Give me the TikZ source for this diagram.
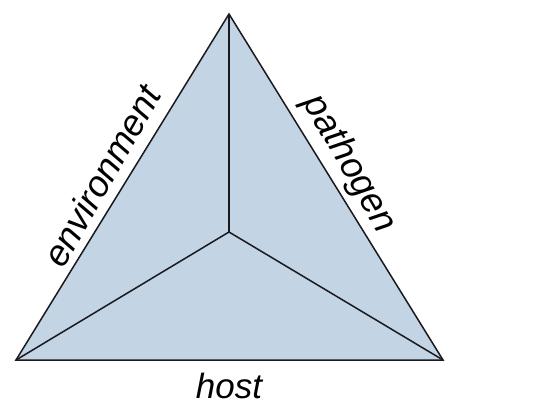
\documentclass[tikz,border=0pt]{standalone}
\usepackage{fontspec}
\setmainfont{Liberation Sans}
\definecolor{trifill}{RGB}{195,212,228}
\definecolor{triline}{RGB}{25,25,30}
\begin{document}
\begin{tikzpicture}[x=1pt,y=1pt,
  edge/.style={draw=triline,line width=1.5pt,line join=miter},
  lab/.style={font=\fontsize{35}{40}\selectfont\itshape,inner sep=0pt},
  sidelab/.style={lab,font=\fontsize{36.5}{40}\selectfont\itshape}]
\useasboundingbox (0,0) rectangle (548,415);
\coordinate (A) at (229,401);
\coordinate (L) at (16,55);
\coordinate (R) at (443,55);
\coordinate (C) at (229,183);
\path[fill=trifill,edge] (A) -- (L) -- (R) -- cycle;
\draw[edge] (A) -- (C);
\draw[edge] (L) -- (C);
\draw[edge] (R) -- (C);
\node[sidelab,rotate=60.5] (env) at (102,239) {environment};
\node[sidelab,rotate=-60] (pat) at (349,251) {pathogen};
\node[lab] (host) at (229,29) {host};
\end{tikzpicture}
\end{document}
